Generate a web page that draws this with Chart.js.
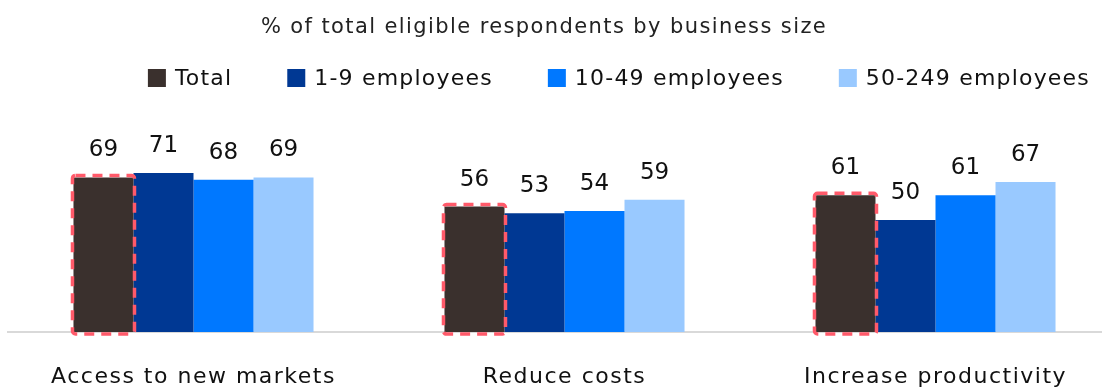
<!DOCTYPE html>
<html>
<head>
<meta charset="utf-8">
<script src="https://cdn.jsdelivr.net/npm/chart.js@4.4.1/dist/chart.umd.min.js"></script>
<style>
  html, body { margin: 0; padding: 0; background: #fff; }
  #wrap { width: 1102px; height: 390px; position: relative; }
</style>
</head>
<body>
<div id="wrap"><canvas id="chart"></canvas></div>
<script>
const categories = ['Access to new markets', 'Reduce costs', 'Increase productivity']
const seriesNames = ['Total', '1-9 employees', '10-49 employees', '50-249 employees']
const total = [69, 56, 61]
const micro = [71, 53, 50]
const small = [68, 54, 61]
const medium = [69, 59, 67]
const seriesColors = ['#3a302d', '#003893', '#0078ff', '#99c9ff']
const titleText = '% of total eligible respondents by business size'

const FONT = "'DejaVu Sans', sans-serif"
const TEXT = '#111111'

// The x axis runs on past the right edge of the canvas
const widenAxis = {
  id: 'widenAxis',
  afterLayout (chart) {
    const x = chart.scales.x
    x.right = 1121
    x.width = x.right - x.left
    x.configure()
  },
  beforeDraw (chart) {
    chart.ctx.letterSpacing = '1.5px'
  }
}

// Title and legend row drawn above the plot area
const headerPlugin = {
  id: 'header',
  afterDraw (chart) {
    const ctx = chart.ctx
    ctx.save()
    ctx.letterSpacing = '1.4px'
    ctx.fillStyle = '#222'
    ctx.font = `21px ${FONT}`
    ctx.textAlign = 'center'
    ctx.textBaseline = 'middle'
    ctx.fillText(titleText, 544, 28)

    ctx.letterSpacing = '1.2px'
    ctx.font = `22px ${FONT}`
    ctx.textAlign = 'left'
    const box = 18
    const gapText = 9
    const gapItem = 55
    const widths = seriesNames.map(n => box + gapText + ctx.measureText(n).width)
    const full = widths.reduce((a, b) => a + b, 0) + gapItem * (seriesNames.length - 1)
    let x = 1090 - full
    const y = 78
    seriesNames.forEach((name, i) => {
      ctx.fillStyle = seriesColors[i]
      ctx.fillRect(x, y - box / 2, box, box)
      ctx.fillStyle = TEXT
      ctx.fillText(name, x + box + gapText, y + 1)
      x += widths[i] + gapItem
    })
    ctx.restore()
  }
}

// Value labels above bars, and a dashed outline around the Total bars
const barDecorations = {
  id: 'barDecorations',
  afterDatasetsDraw (chart) {
    const ctx = chart.ctx
    ctx.save()

    const totalMeta = chart.getDatasetMeta(0)
    ctx.strokeStyle = '#ff5a6a'
    ctx.lineWidth = 3.5
    ctx.setLineDash([10, 7])
    totalMeta.data.forEach(bar => {
      const w = bar.width
      const left = bar.x - w / 2 - 1
      const top = bar.y - 2
      const bottom = bar.base + 2
      ctx.beginPath()
      ctx.roundRect(left, top, w + 2, bottom - top, 3)
      ctx.stroke()
    })
    ctx.setLineDash([])

    ctx.letterSpacing = '0px'
    ctx.fillStyle = TEXT
    ctx.font = `23px ${FONT}`
    ctx.textAlign = 'center'
    ctx.textBaseline = 'middle'
    chart.data.datasets.forEach((ds, i) => {
      chart.getDatasetMeta(i).data.forEach((bar, j) => {
        ctx.fillText(String(ds.data[j]), bar.x, bar.y - 27)
      })
    })
    ctx.restore()
  }
}

const seriesData = [total, micro, small, medium]

new Chart(document.getElementById('chart'), {
  type: 'bar',
  data: {
    labels: categories,
    datasets: seriesNames.map((name, i) => ({
      label: name,
      data: seriesData[i],
      backgroundColor: seriesColors[i],
      borderWidth: 0,
      categoryPercentage: 0.647,
      barPercentage: 1
    }))
  },
  options: {
    responsive: true,
    maintainAspectRatio: false,
    animation: false,
    layout: { padding: { top: 108, left: 8, right: 0, bottom: 0 } },
    plugins: {
      legend: { display: false },
      title: { display: false },
      tooltip: { enabled: false }
    },
    scales: {
      x: {
        grid: { display: false, drawTicks: false },
        border: { display: true, color: '#d9d9d9', width: 2 },
        ticks: { color: TEXT, font: { family: FONT, size: 22 }, padding: 32, maxRotation: 0, autoSkip: false },
        afterFit: (scale) => { scale.height = 58 }
      },
      y: {
        display: false,
        min: 0,
        max: 100
      }
    }
  },
  plugins: [widenAxis, headerPlugin, barDecorations]
})
</script>
</body>
</html>
